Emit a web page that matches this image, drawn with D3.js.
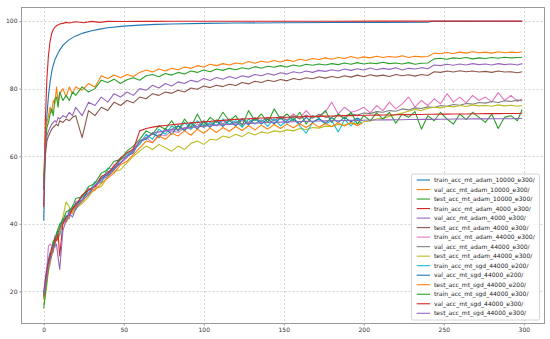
<!DOCTYPE html>
<html>
<head>
<meta charset="utf-8">
<script src="https://cdn.jsdelivr.net/npm/d3@7"></script>
<style>
  body { margin: 0; background: #fff; }
  svg text { font-family: "DejaVu Sans", sans-serif; }
</style>
</head>
<body>
<script>
(function () {

// epochs the logged values were read at
var EPOCHS = [0,1,2,3,4,5,6,7,8,9,10,12,14,16,18].concat(d3.range(20, 297, 4), [299]);
var EPOCHS_200 = [0,1,2,3,4,5,6,7,8,9,10,12,14,16,18].concat(d3.range(20, 197, 4), [199]);
var SMOOTH_EPOCHS = [0,1,2,3,4,5,6,7,8,10,12,14,16,20,25,30,35,40,50,60,70,80,100,120,150,180,210,240,242,260,280,299];

var X_TICKS = [0, 50, 100, 150, 200, 250, 300];
var Y_TICKS = [20, 40, 60, 80, 100];

var NAMES = [
  "train_acc_mt_adam_10000_e300/",
  "val_acc_mt_adam_10000_e300/",
  "test_acc_mt_adam_10000_e300/",
  "train_acc_mt_adam_4000_e300/",
  "val_acc_mt_adam_4000_e300/",
  "test_acc_mt_adam_4000_e300/",
  "train_acc_mt_adam_44000_e300/",
  "val_acc_mt_adam_44000_e300/",
  "test_acc_mt_adam_44000_e300/",
  "train_acc_mt_sgd_44000_e200/",
  "val_acc_mt_sgd_44000_e200/",
  "test_acc_mt_sgd_44000_e200/",
  "train_acc_mt_sgd_44000_e300/",
  "val_acc_mt_sgd_44000_e300/",
  "test_acc_mt_sgd_44000_e300/"
];

// --- adam 10000 / 4000 train (smooth epochs)
var train_adam_10000 = [41.0, 62.0, 72.0, 78.0, 82.0, 85.0, 87.0, 88.5, 89.6,
  91.4, 92.8, 93.7, 94.5, 95.6, 96.5, 97.1, 97.6, 98.0, 98.5, 98.8, 99.0, 99.1,
  99.3, 99.4, 99.5, 99.55, 99.6, 99.65, 99.9, 99.9, 99.95, 99.95];
var train_adam_4000 = [45.0, 70.0, 83.0, 90.0, 94.0, 96.3, 97.5, 98.2, 98.6,
  99.1, 99.3, 99.6, 99.4, 99.8, 99.5, 99.9, 99.6, 99.9, 99.85, 99.9, 99.9, 99.92,
  99.93, 99.94, 99.95, 99.95, 99.96, 99.96, 99.97, 99.97, 99.98, 99.98];

// --- val / test adam (EPOCHS)
var val_adam_10000 = [
  54.0, 65.5, 70.0, 72.0, 74.5, 73.0, 76.5, 75.5, 80.5, 76.0, 78.5, 80.0, 77.5, 80.5, 78.5,
  80.5, 79.5, 81.5, 80.5, 83.8, 83.0, 84.0, 83.2,
  84.2, 83.6, 84.8, 85.5, 84.9, 85.8, 85.2, 86.0,
  85.6, 86.4, 86.0, 86.8, 86.4, 87.2, 86.8, 87.4,
  87.0, 87.6, 87.3, 88.0, 87.5, 88.1, 87.8, 88.3,
  87.9, 88.5, 88.0, 88.7, 88.3, 88.9, 88.6, 89.1,
  88.7, 89.2, 88.9, 89.5, 89.0, 89.4, 89.1, 89.6,
  89.2, 89.5, 89.3, 89.7, 89.2, 89.6, 89.4, 89.5,
  90.5, 90.3, 90.7, 90.4, 90.8, 90.5, 90.9, 90.6,
  90.8, 90.5, 90.9, 90.6, 90.8, 90.7, 90.9];
var test_adam_10000 = [
  52.0, 62.0, 68.5, 70.0, 72.5, 74.0, 72.0, 77.0, 77.5, 74.5, 79.0, 76.5, 78.0, 76.5, 79.0,
  78.0, 80.5, 79.0, 80.0, 82.5, 81.8, 82.8, 81.5,
  82.6, 83.2, 82.5, 83.8, 84.2, 83.5, 84.5, 84.0,
  84.8, 84.3, 85.2, 84.8, 85.5, 85.0, 85.8, 85.4,
  86.0, 85.6, 86.2, 85.8, 86.5, 86.0, 86.6, 86.3,
  86.8, 86.4, 87.0, 86.6, 87.2, 86.9, 87.3, 87.0,
  87.4, 87.1, 87.6, 87.2, 87.7, 87.3, 87.6, 87.4,
  87.8, 87.4, 87.6, 87.3, 87.7, 87.2, 87.5, 87.6,
  88.8, 89.0, 88.7, 89.1, 88.9, 89.2, 88.8, 89.1,
  88.9, 89.2, 89.0, 89.3, 89.1, 89.2, 89.3];
var val_adam_4000 = [
  50.5, 62.0, 66.0, 67.5, 68.5, 69.5, 70.0, 70.5, 70.0, 71.5, 71.0, 72.0, 71.5, 73.0, 72.0,
  74.5, 72.0, 76.0, 75.0, 77.5, 76.0, 78.5, 77.5,
  79.0, 78.0, 80.0, 79.5, 81.0, 80.2, 81.5, 80.8,
  82.0, 81.5, 82.5, 82.0, 83.0, 82.4, 83.3, 82.8,
  83.6, 83.0, 83.8, 83.4, 84.2, 83.8, 84.5, 84.0,
  84.7, 84.3, 85.0, 84.6, 85.2, 84.8, 85.4, 85.1,
  85.6, 85.2, 85.8, 85.4, 85.9, 85.5, 86.1, 85.6,
  86.0, 85.7, 86.2, 85.5, 86.0, 85.8, 86.2, 85.9,
  87.0, 86.8, 87.2, 86.9, 87.3, 87.0, 87.4, 87.1,
  87.3, 87.0, 87.4, 87.1, 87.3, 87.0, 87.4];
var test_adam_4000 = [
  50.0, 60.0, 64.5, 66.0, 67.0, 68.0, 68.5, 69.0, 69.5, 69.0, 70.5, 70.0, 71.0, 70.5, 71.5,
  72.0, 65.5, 73.5, 72.0, 74.5, 73.5, 76.0, 75.0,
  76.5, 75.8, 77.5, 77.0, 78.5, 78.0, 79.0, 78.6,
  79.5, 79.0, 80.2, 79.8, 80.8, 80.3, 81.0, 80.6,
  81.3, 80.9, 81.8, 81.4, 82.2, 81.8, 82.5, 82.1,
  82.7, 82.3, 83.0, 82.6, 83.2, 82.9, 83.5, 83.1,
  83.6, 83.2, 83.8, 83.4, 84.0, 83.5, 84.1, 83.7,
  84.0, 83.6, 84.2, 83.8, 84.1, 83.7, 84.2, 83.9,
  85.0, 84.8, 85.2, 84.9, 85.3, 85.0, 85.2, 84.9,
  85.1, 84.8, 85.2, 84.9, 85.0, 84.7, 85.0];

// --- adam 44000 (EPOCHS)
var train_adam_44000 = [
  20.0, 24.0, 27.5, 33.5, 34.0, 33.5, 34.0, 36.5, 35.0, 37.0, 39.5, 41.0, 40.5, 44.5, 43.0,
  46.5, 47.0, 50.5, 50.0, 54.0, 54.5, 57.5, 58.0,
  59.5, 62.5, 64.0, 65.5, 64.0, 66.5, 66.0, 67.5,
  67.0, 68.5, 68.0, 69.5, 68.5, 70.0, 69.0, 70.5,
  69.5, 70.0, 70.5, 69.8, 71.0, 70.2, 71.5, 70.5,
  71.8, 70.8, 72.5, 71.2, 73.5, 71.5, 72.0, 73.0,
  76.0, 72.5, 74.5, 73.0, 73.5, 74.5, 72.8, 75.0,
  73.5, 76.0, 74.0, 75.5, 77.5, 74.5, 76.5, 75.0,
  77.0, 75.5, 78.5, 76.0, 77.5, 75.8, 78.0, 76.5,
  77.5, 76.0, 78.8, 76.5, 78.0, 76.2, 77.0];
var val_adam_44000 = [
  19.0, 22.5, 25.0, 28.0, 30.5, 32.0, 32.5, 35.0, 36.0, 35.5, 38.5, 40.0, 42.0, 42.5, 44.5,
  45.0, 48.0, 49.0, 51.5, 52.5, 55.5, 56.0, 59.0,
  60.0, 61.5, 64.5, 65.5, 66.5, 66.0, 67.5, 68.0,
  69.0, 67.8, 70.0, 68.6, 70.5, 69.2, 70.8, 69.5,
  71.0, 69.8, 71.2, 70.0, 71.4, 70.3, 71.5, 70.6,
  71.6, 70.6, 72.0, 71.0, 72.2, 71.2, 72.4, 71.5,
  71.6, 72.2, 71.9, 72.5, 72.2, 72.8, 72.6, 73.2,
  73.0, 73.5, 73.3, 74.0, 73.7, 74.3, 74.1, 74.6,
  74.4, 75.0, 74.8, 75.3, 75.1, 75.6, 75.4, 75.9,
  75.7, 76.2, 75.9, 76.4, 76.2, 76.6, 76.4];
var test_adam_44000 = [
  16.0, 18.5, 22.0, 26.0, 28.0, 31.0, 33.5, 35.5, 37.0, 38.5, 39.0, 42.0, 46.5, 45.0, 43.0,
  44.5, 46.0, 48.0, 50.5, 51.0, 54.0, 55.5, 56.0,
  58.0, 60.0, 61.5, 63.0, 62.0, 63.5, 62.5, 61.5,
  63.0, 62.0, 63.8, 64.5, 63.5, 65.0, 64.8, 66.0,
  65.5, 66.5, 65.8, 67.0, 66.3, 67.2, 66.8, 67.5,
  67.2, 67.8, 67.5, 68.2, 67.9, 68.5, 68.3, 68.9,
  68.8, 69.4, 69.2, 69.8, 69.6, 70.2, 70.4, 71.0,
  71.2, 71.8, 72.3, 72.8, 73.3, 73.8, 73.5, 74.2,
  74.5, 74.3, 74.8, 74.6, 75.0, 74.7, 75.2, 74.9,
  75.0, 74.8, 75.2, 74.9, 75.1, 74.8, 75.0];

// --- sgd 44000, 200 epochs (EPOCHS_200)
var train_sgd_e200 = [
  18.0, 22.0, 25.5, 28.5, 30.0, 32.5, 34.5, 33.0, 37.5, 38.0, 36.5, 40.5, 42.5, 41.5, 45.5,
  44.0, 48.5, 49.0, 52.5, 52.0, 56.5, 56.0, 59.5,
  60.5, 62.0, 63.5, 66.5, 65.0, 68.0, 66.5, 69.0,
  67.5, 70.0, 68.0, 70.5, 68.5, 70.0, 69.0, 71.0,
  69.5, 70.5, 68.5, 71.0, 69.5, 70.8, 68.8, 71.2,
  69.0, 70.5, 71.5, 69.0, 66.8, 70.0, 71.0, 69.5,
  70.5, 67.2, 70.8, 69.0, 71.0, 69.5];
var val_sgd_e200 = [
  19.5, 23.0, 26.5, 29.5, 31.5, 31.0, 33.5, 36.0, 36.5, 37.5, 38.5, 41.5, 41.0, 43.5, 44.0,
  46.0, 47.0, 50.0, 51.0, 53.5, 54.5, 56.5, 58.0,
  60.0, 61.0, 64.5, 65.0, 67.0, 65.5, 68.2, 66.5,
  69.0, 67.5, 69.8, 68.0, 70.2, 68.5, 70.5, 68.8,
  70.6, 69.0, 71.0, 69.2, 71.2, 69.5, 71.0, 69.6,
  71.3, 69.8, 71.0, 69.6, 71.5, 70.0, 71.2, 69.8,
  71.4, 70.0, 71.5, 70.2, 71.3, 70.5];
var test_sgd_e200 = [
  17.5, 20.5, 24.5, 27.0, 30.0, 32.0, 31.5, 34.5, 36.0, 35.0, 38.0, 40.0, 40.5, 42.0, 44.0,
  45.0, 46.5, 49.0, 50.0, 52.0, 53.5, 55.0, 57.5,
  58.5, 60.5, 62.5, 64.5, 64.0, 66.0, 65.0, 66.8,
  66.0, 67.5, 66.2, 68.0, 66.8, 68.3, 67.0, 68.5,
  67.4, 68.8, 67.6, 69.0, 67.8, 69.2, 68.0, 69.4,
  68.2, 69.5, 68.4, 69.6, 68.5, 69.8, 68.6, 69.7,
  68.8, 69.9, 68.9, 70.0, 69.0, 69.8];

// --- sgd 44000, 300 epochs (EPOCHS)
var train_sgd_e300 = [
  15.0, 19.0, 23.5, 27.0, 30.5, 32.5, 35.0, 34.5, 37.0, 38.5, 40.0, 41.0, 43.5, 44.0, 45.0,
  47.5, 48.0, 51.0, 52.0, 55.0, 56.0, 58.5, 59.0,
  61.5, 63.0, 65.0, 67.5, 66.5, 69.0, 68.0, 70.5,
  67.5, 71.0, 68.5, 72.5, 69.0, 71.5, 70.0, 73.0,
  70.5, 72.0, 69.0, 73.5, 70.5, 72.5, 70.0, 74.0,
  71.0, 72.5, 70.5, 73.0, 69.5, 72.0, 71.5, 73.5,
  70.0, 72.5, 71.0, 73.0, 69.5, 72.0, 70.5, 72.8,
  71.0, 73.0, 69.8, 72.5, 71.5, 73.2, 68.0, 72.0,
  70.5, 73.0, 71.0, 69.5, 72.5, 70.8, 73.0, 71.5,
  70.0, 72.5, 68.2, 71.5, 72.0, 70.5, 73.8];
var val_sgd_e300 = [
  18.5, 22.0, 26.0, 28.5, 30.5, 33.0, 32.5, 35.5, 35.0, 37.0, 30.5, 40.0, 42.0, 42.5, 44.5,
  45.5, 48.5, 50.0, 51.0, 54.0, 55.0, 57.0, 59.5,
  61.0, 62.0, 67.5, 68.2, 68.6, 68.9, 69.1, 69.3,
  69.5, 69.7, 69.9, 70.0, 70.2, 70.3, 70.5, 70.6,
  70.8, 70.9, 71.0, 71.1, 71.2, 71.3, 71.35, 71.4,
  71.5, 71.55, 71.6, 71.65, 71.7, 71.75, 71.8, 71.85,
  71.9, 71.95, 72.0, 72.0, 72.05, 72.1, 72.1, 72.15,
  72.2, 72.2, 72.25, 72.3, 72.3, 72.35, 72.35, 72.4,
  72.4, 72.45, 72.45, 72.5, 72.5, 72.5, 72.55, 72.55,
  72.6, 72.6, 72.6, 72.65, 72.65, 72.65, 72.7];
var test_sgd_e300 = [
  19.0, 21.5, 24.0, 27.5, 29.0, 30.5, 33.0, 33.5, 34.0, 30.0, 26.5, 38.0, 41.0, 43.0, 42.0,
  44.5, 47.0, 48.5, 51.5, 53.0, 54.0, 56.0, 58.0,
  60.0, 61.5, 64.5, 65.5, 66.8, 67.2, 67.5, 67.8,
  68.0, 68.3, 68.5, 68.7, 68.9, 69.0, 69.2, 69.3,
  69.4, 69.5, 69.6, 69.7, 69.8, 69.9, 70.0, 70.05,
  70.1, 70.15, 70.2, 70.25, 70.3, 70.35, 70.4, 70.45,
  70.5, 70.5, 70.55, 70.6, 70.6, 70.65, 70.7, 70.7,
  70.75, 70.75, 70.8, 70.8, 70.85, 70.85, 70.9, 70.9,
  70.9, 70.95, 70.95, 71.0, 71.0, 71.0, 71.05, 71.05,
  71.05, 71.1, 71.1, 71.1, 71.1, 71.15, 71.15];

var series = [
  [SMOOTH_EPOCHS, train_adam_10000],
  [EPOCHS, val_adam_10000],
  [EPOCHS, test_adam_10000],
  [SMOOTH_EPOCHS, train_adam_4000],
  [EPOCHS, val_adam_4000],
  [EPOCHS, test_adam_4000],
  [EPOCHS, train_adam_44000],
  [EPOCHS, val_adam_44000],
  [EPOCHS, test_adam_44000],
  [EPOCHS_200, train_sgd_e200],
  [EPOCHS_200, val_sgd_e200],
  [EPOCHS_200, test_sgd_e200],
  [EPOCHS, train_sgd_e300],
  [EPOCHS, val_sgd_e300],
  [EPOCHS, test_sgd_e300]
].map(function (s, i) {
  if (s[0].length !== s[1].length) console.log("length mismatch", NAMES[i], s[0].length, s[1].length);
  var n = Math.min(s[0].length, s[1].length);
  return {
    name: NAMES[i],
    color: d3.schemeCategory10[i % 10],
    points: d3.range(n).map(function (j) { return [s[0][j], s[1][j]]; })
  };
});

// dimensions
var width = 550;
var height = 339;
var plot = { left: 20.5, right: 543, top: 7, bottom: 322.5 };

var svg = d3.select("body")
  .append("svg")
    .attr("width", width)
    .attr("height", height);

var x = d3.scaleLinear().domain([-14.5, 312]).range([plot.left, plot.right]);
var y = d3.scaleLinear().domain([10.8, 104.15]).range([plot.bottom, plot.top]);

// grid
svg.append("g")
  .selectAll("line")
  .data(X_TICKS)
  .enter()
  .append("line")
    .attr("x1", function (d) { return Math.round(x(d)) + 0.5; })
    .attr("x2", function (d) { return Math.round(x(d)) + 0.5; })
    .attr("y1", plot.top)
    .attr("y2", plot.bottom)
    .attr("stroke", "#c8c8c8")
    .attr("stroke-width", 0.8)
    .attr("stroke-dasharray", "2,2");

svg.append("g")
  .selectAll("line")
  .data(Y_TICKS)
  .enter()
  .append("line")
    .attr("x1", plot.left)
    .attr("x2", plot.right)
    .attr("y1", function (d) { return Math.round(y(d)) + 0.5; })
    .attr("y2", function (d) { return Math.round(y(d)) + 0.5; })
    .attr("stroke", "#c8c8c8")
    .attr("stroke-width", 0.8)
    .attr("stroke-dasharray", "2,2");

// lines
var line = d3.line()
  .x(function (d) { return x(d[0]); })
  .y(function (d) { return y(d[1]); });

svg.append("g")
  .selectAll("path")
  .data(series)
  .enter()
  .append("path")
    .attr("d", function (d) { return line(d.points); })
    .attr("fill", "none")
    .attr("stroke", function (d) { return d.color; })
    .attr("stroke-width", 1.1)
    .attr("stroke-linejoin", "round");

// frame
svg.append("rect")
  .attr("x", Math.round(plot.left) + 0.5)
  .attr("y", plot.top + 0.5)
  .attr("width", Math.round(plot.right - plot.left))
  .attr("height", Math.round(plot.bottom - plot.top))
  .attr("fill", "none")
  .attr("stroke", "#9a9a9a")
  .attr("stroke-width", 1);

// axes
var xAxis = d3.axisBottom(x).tickValues(X_TICKS).tickSize(2).tickPadding(2);
var yAxis = d3.axisLeft(y).tickValues(Y_TICKS).tickSize(2).tickPadding(2);

var gx = svg.append("g")
  .attr("transform", "translate(0," + (Math.round(plot.bottom) + 0.5) + ")")
  .call(xAxis);
var gy = svg.append("g")
  .attr("transform", "translate(" + (Math.round(plot.left) + 0.5) + ",0)")
  .call(yAxis);

[gx, gy].forEach(function (g) {
  g.select(".domain").remove();
  g.selectAll(".tick line").attr("stroke", "#9a9a9a");
  g.selectAll(".tick text")
    .attr("fill", "#333")
    .style("font-size", "6px")
    .style("font-family", "DejaVu Sans, sans-serif");
});

// legend
var legendX = 411, legendTop = 173.5, rowH = 9.52;
var legend = svg.append("g");

legend.append("rect")
  .attr("x", legendX + 0.5)
  .attr("y", legendTop + 0.5)
  .attr("width", 128)
  .attr("height", 146)
  .attr("rx", 1.5)
  .attr("fill", "#fff")
  .attr("fill-opacity", 0.8)
  .attr("stroke", "#cccccc")
  .attr("stroke-width", 0.8);

var row = legend.selectAll(".row")
  .data(series)
  .enter()
  .append("g")
  .attr("transform", function (d, i) {
    return "translate(" + legendX + "," + (legendTop + 6.5 + i * rowH) + ")";
  });

row.append("line")
  .attr("x1", 5.7)
  .attr("x2", 19)
  .attr("stroke", function (d) { return d.color; })
  .attr("stroke-width", 1.1);

row.append("text")
  .attr("x", 23)
  .attr("dy", "0.35em")
  .attr("fill", "#222")
  .style("font-size", "6px")
  .text(function (d) { return d.name; });

}());
</script>
</body>
</html>
